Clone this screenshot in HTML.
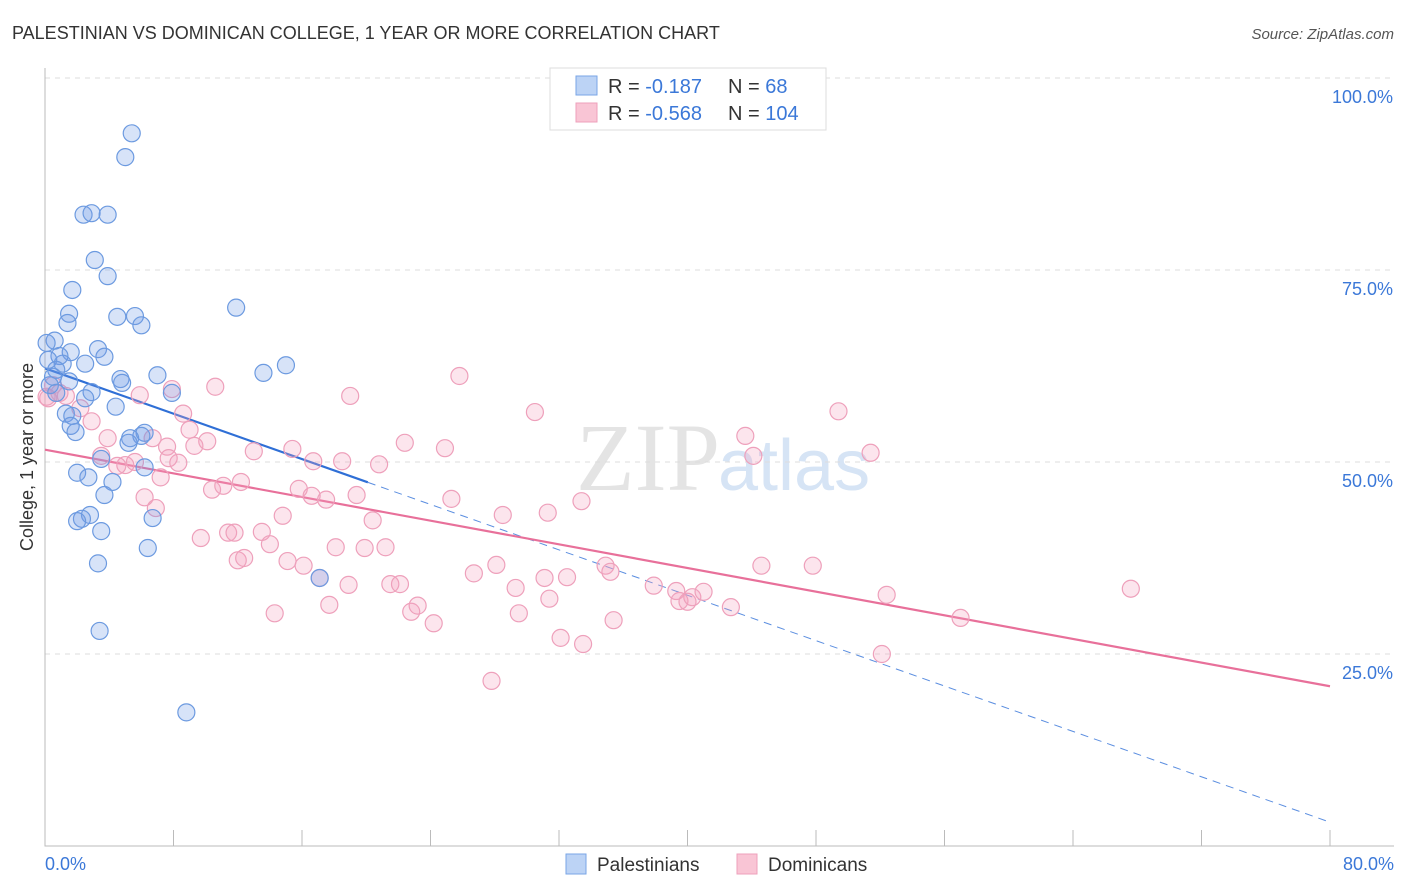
<!DOCTYPE html>
<html><head><meta charset="utf-8">
<style>
body{margin:0;background:#fff;font-family:"Liberation Sans",sans-serif;}
svg{display:block}
</style></head>
<body>
<svg id="chart" width="1406" height="892" xmlns="http://www.w3.org/2000/svg">
<text x="12" y="39" font-size="18" fill="#333">PALESTINIAN VS DOMINICAN COLLEGE, 1 YEAR OR MORE CORRELATION CHART</text>
<text x="1394" y="39" font-size="15" fill="#555" text-anchor="end" font-style="italic">Source: ZipAtlas.com</text>
<text x="720" y="490" font-size="96" fill="#e4e4e4" text-anchor="end" font-family="Liberation Serif">ZIP</text>
<text x="718" y="490" font-size="72" fill="#d6e4f5">atlas</text>
<g id="grid"></g>
<g id="axes"></g>
<g id="trends"></g>
<g id="points"></g>
<text transform="translate(33,457) rotate(-90)" font-size="18" fill="#333" text-anchor="middle">College, 1 year or more</text>
<g>
<rect x="550" y="68" width="276" height="62" fill="#fff" stroke="#ddd"/>
<rect x="576" y="76" width="21" height="19" fill="#bcd3f5" stroke="#7aa6e6"/>
<rect x="576" y="103" width="21" height="19" fill="#f9c5d5" stroke="#eea0bb"/>
<text x="608" y="93" font-size="20" fill="#333">R = <tspan fill="#3b78d8"> -0.187</tspan></text>
<text x="728" y="93" font-size="20" fill="#333">N = <tspan fill="#3b78d8">  68</tspan></text>
<text x="608" y="120" font-size="20" fill="#333">R = <tspan fill="#3b78d8">-0.568</tspan></text>
<text x="728" y="120" font-size="20" fill="#333">N = <tspan fill="#3b78d8">104</tspan></text>
</g>
<g>
<rect x="566" y="854" width="20" height="20" fill="#bcd3f5" stroke="#7aa6e6"/>
<text x="597" y="871" font-size="19" fill="#333">Palestinians</text>
<rect x="737" y="854" width="20" height="20" fill="#f9c5d5" stroke="#eea0bb"/>
<text x="768" y="871" font-size="19" fill="#333">Dominicans</text>
</g>
</svg>
<script>
const yTicks=[25,50,75,100];
const xTickLabels=["0.0%","80.0%"];
const blueX=[5.4,5.0,2.4,2.9,3.9,3.1,3.9,1.7,11.9,1.5,1.4,4.5,5.6,6.0,0.6,0.1,1.6,3.3,3.7,0.9,0.2,1.1,2.5,0.7,7.0,13.6,15.0,0.5,1.5,4.7,4.8,0.3,7.9,2.9,2.5,0.7,4.4,1.3,1.7,1.6,1.9,6.2,6.0,5.3,5.2,3.5,6.2,2.0,2.7,4.2,3.7,2.8,2.3,2.0,6.7,3.5,6.4,3.3,17.1,3.4,8.8];
const blueY=[92.8,89.7,82.2,82.4,82.2,76.3,74.2,72.4,70.1,69.3,68.1,68.9,69.0,67.8,65.8,65.5,64.3,64.7,63.7,63.8,63.3,62.8,62.8,62.0,61.3,61.6,62.6,61.1,60.5,60.8,60.3,60.0,59.0,59.1,58.3,59.0,57.2,56.3,56.0,54.7,53.9,53.8,53.4,53.1,52.5,50.4,49.3,48.6,48.0,47.4,45.7,43.1,42.6,42.3,42.7,41.0,38.8,36.8,34.9,28.0,17.4];
const pinkX=[0.2,0.5,0.9,1.3,2.2,2.9,3.9,5.0,5.6,6.7,7.6,7.9,8.6,9.0,9.3,10.1,10.6,5.9,7.7,8.3,3.5,4.5,7.2,6.2,6.9,9.7,10.4,11.1,11.4,11.8,12.2,13.0,13.5,12.0,12.4,14.0,14.3,14.8,15.4,15.8,15.1,16.1,16.6,17.1,16.7,17.7,17.5,18.1,18.5,19.0,18.9,19.4,19.9,20.4,20.8,21.2,21.5,22.1,22.4,22.8,23.2,24.2,24.9,25.3,25.8,26.7,27.8,28.5,28.1,29.3,29.5,30.5,31.1,31.3,31.4,32.1,32.5,33.5,33.4,34.9,35.2,35.4,37.9,39.3,39.5,40.0,40.3,41.0,42.7,43.6,44.1,44.6,47.8,49.4,51.4,52.1,52.4,57.0,67.6,0.1];
const pinkY=[58.3,60.0,59.0,58.6,57.0,55.3,53.1,49.6,50.0,53.1,52.0,59.5,56.3,54.2,52.1,52.7,59.8,58.7,50.5,49.9,50.8,49.5,48.0,45.4,44.0,40.1,46.4,46.9,40.8,40.8,47.4,51.4,40.9,37.2,37.5,39.3,30.3,43.0,51.7,46.5,37.1,36.5,45.6,34.9,50.1,31.4,45.1,38.9,50.1,58.6,34.0,45.7,38.8,42.4,49.7,38.9,34.1,34.1,52.5,30.5,31.3,29.0,51.8,45.2,61.2,35.5,21.5,43.1,36.6,33.6,30.3,56.5,34.9,43.4,32.2,27.1,35.0,26.3,44.9,36.5,35.7,29.4,33.9,33.2,31.9,31.8,32.4,33.1,31.1,53.4,50.8,36.5,36.5,56.6,51.2,25.0,32.7,29.7,33.5,58.5];
const blueTrend=[62.2,3.1];
const pinkTrend=[51.6,20.8];
const blueSolidEnd=20.1;

const NS="http://www.w3.org/2000/svg";
const xs=v=>45+v*1285/80;
const ys=v=>78+(100-v)*7.68;
function mk(tag,attrs,parent){const e=document.createElementNS(NS,tag);for(const k in attrs)e.setAttribute(k,attrs[k]);parent.appendChild(e);return e;}
const grid=document.getElementById('grid'),axes=document.getElementById('axes'),tr=document.getElementById('trends'),pts=document.getElementById('points');
yTicks.forEach(t=>{
 const l=mk('line',{x1:45,x2:1394,y1:ys(t),y2:ys(t),stroke:'#ddd','stroke-dasharray':'5,5'},grid);
 
 
 const tx=mk('text',{x:1393,y:ys(t)+25,'font-size':18,fill:'#3b78d8','text-anchor':'end'},axes);
 tx.textContent=t.toFixed(1)+'%';
 
 
});
const ax=mk('path',{d:'M45 68V846H1394',fill:'none',stroke:'#bbb'},axes);


for(let i=0;i<=10;i++){
 const t=mk('line',{x1:xs(i*8),x2:xs(i*8),y1:830,y2:846,stroke:'#bbb'},axes);
 
 
}
[[0,'start',45],[80,'end',1394]].forEach((d,i)=>{
 const t=mk('text',{x:d[2],y:870,'font-size':18,fill:'#3b78d8','text-anchor':d[1]},axes);
 t.textContent=xTickLabels[i];
 
 
});
function pt(x,y,fill,stroke,name){
 const c=mk('circle',{cx:xs(x),cy:ys(y),r:8.5,fill:fill,stroke:stroke,'stroke-width':1.2},pts);
 
 
}
pinkX.forEach((x,i)=>pt(x,pinkY[i],'rgba(244,160,190,0.28)','#eea0bb','dominican-point'));
blueX.forEach((x,i)=>pt(x,blueY[i],'rgba(110,155,230,0.28)','#6c9ae0','palestinian-point'));
const bAt=x=>blueTrend[0]+(blueTrend[1]-blueTrend[0])*x/80;
const l1=mk('line',{x1:xs(0),y1:ys(bAt(0)),x2:xs(blueSolidEnd),y2:ys(bAt(blueSolidEnd)),stroke:'#2f6fd6','stroke-width':2.2},tr);


const l2=mk('line',{x1:xs(blueSolidEnd),y1:ys(bAt(blueSolidEnd)),x2:xs(80),y2:ys(bAt(80)),stroke:'#5b8ee0','stroke-width':1,'stroke-dasharray':'8,6'},tr);


const l3=mk('line',{x1:xs(0),y1:ys(pinkTrend[0]),x2:xs(80),y2:ys(pinkTrend[1]),stroke:'#e8709a','stroke-width':2.2},tr);


</script>
</body></html>
